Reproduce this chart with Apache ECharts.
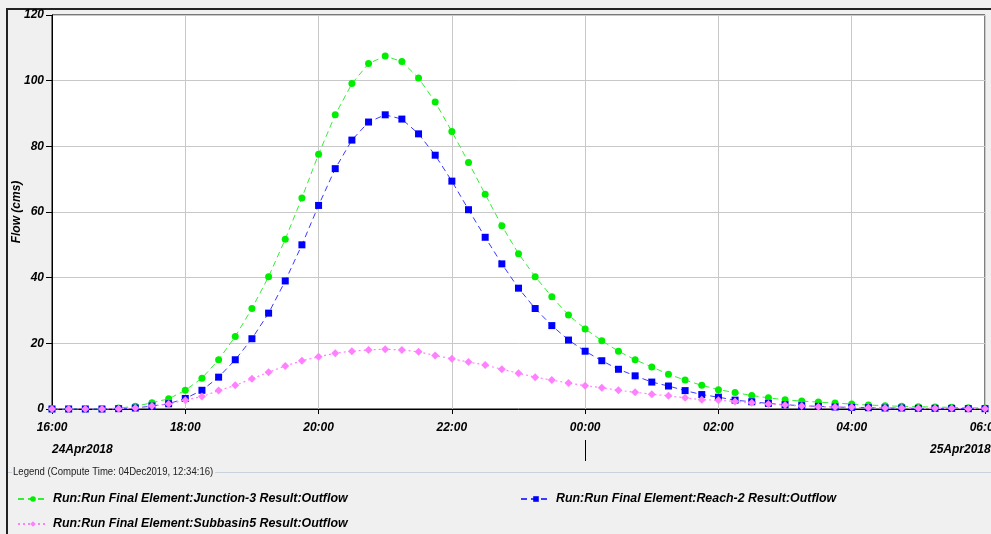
<!DOCTYPE html>
<html lang="en" style="height: 100%">
<head>
  <meta charset="utf-8">
</head>
<body style="height: 100%; margin: 0; background: #f0f0f0">
  <div id="container" style="width: 991px; height: 534px"></div>

  <script type="text/javascript" src="https://registry.npmmirror.com/echarts/5.5.0/files/dist/echarts.min.js"></script>

  <script type="text/javascript">
    // 15-minute steps, 24Apr2018 16:00 -> 25Apr2018 06:00 (hours, 24+ = next day)
    var startHour = 16;
    var stepHour = 0.25;

    var junction3 = [0, 0, 0, 0, 0.3, 0.8, 1.9, 3.1, 5.7, 9.4, 15.0, 22.1, 30.6, 40.3, 51.7, 64.3,
      77.6, 89.6, 99.1, 105.2, 107.5, 105.8, 100.8, 93.5, 84.5, 75.1, 65.4, 55.8, 47.3, 40.3, 34.2,
      28.6, 24.4, 20.8, 17.6, 15.0, 12.8, 10.6, 8.8, 7.2, 5.9, 5.0, 4.1, 3.4, 2.8, 2.4, 2.1, 1.8,
      1.5, 1.2, 1.0, 0.8, 0.7, 0.6, 0.5, 0.4, 0.3];
    var reach2 = [0, 0, 0, 0, 0.1, 0.3, 0.9, 1.6, 3.2, 5.7, 9.7, 15.0, 21.4, 29.2, 39.0, 50.0,
      62.0, 73.2, 81.9, 87.4, 89.6, 88.3, 83.8, 77.3, 69.4, 60.7, 52.3, 44.2, 36.8, 30.6, 25.4,
      21.0, 17.6, 14.7, 12.1, 10.1, 8.2, 7.0, 5.6, 4.4, 3.6, 2.7, 2.2, 1.7, 1.3, 1.0, 0.8, 0.6,
      0.5, 0.4, 0.3, 0.3, 0.2, 0.2, 0.2, 0.1, 0.1];
    var subbasin5 = [0, 0, 0, 0, 0.1, 0.3, 0.9, 1.5, 2.7, 3.8, 5.6, 7.2, 9.2, 11.2, 13.1, 14.7,
      15.9, 17.0, 17.6, 18.0, 18.2, 18.0, 17.4, 16.3, 15.3, 14.3, 13.4, 12.1, 10.9, 9.7, 8.8,
      7.9, 7.1, 6.5, 5.7, 5.1, 4.5, 4.0, 3.4, 2.8, 2.7, 2.3, 1.9, 1.5, 1.2, 0.9, 0.7, 0.6,
      0.5, 0.4, 0.3, 0.3, 0.2, 0.2, 0.2, 0.1, 0.1];

    var names = [
      'Run:Run Final Element:Junction-3 Result:Outflow',
      'Run:Run Final Element:Reach-2 Result:Outflow',
      'Run:Run Final Element:Subbasin5 Result:Outflow'
    ];

    function pairs(vals) {
      return vals.map(function (v, i) { return [startHour + i * stepHour, v]; });
    }

    var font = 'Liberation Sans, Arial, sans-serif';
    var bi = { fontFamily: font, fontSize: 12, fontWeight: 'bold', fontStyle: 'italic', color: '#000' };

    var dom = document.getElementById('container');
    var myChart = echarts.init(dom, null, { renderer: 'canvas' });

    function legendBox(name, left, top) {
      return {
        data: [name], left: left, top: top, orient: 'horizontal',
        itemWidth: 30, itemHeight: 7, selectedMode: false,
        textStyle: Object.assign({}, bi, { fontSize: 12.4 })
      };
    }

    var option = {
      backgroundColor: '#f0f0f0',
      animation: false,
      grid: {
        left: 52, top: 15, right: 6, bottom: 125,
        outerBoundsMode: 'none', containLabel: false,
        show: true, backgroundColor: '#fff', borderColor: '#000', borderWidth: 1
      },
      xAxis: {
        type: 'value', min: 16, max: 30, interval: 2,
        axisLine: { lineStyle: { color: '#000', width: 1 } },
        axisTick: { length: 5, lineStyle: { color: '#000' } },
        splitLine: { lineStyle: { color: '#c8c8c8' } },
        axisLabel: Object.assign({
          margin: 13, showMaxLabel: true, showMinLabel: true, hideOverlap: false,
          formatter: function (v) {
            var h = v % 24;
            return (h < 10 ? '0' : '') + h + ':00';
          }
        }, bi)
      },
      yAxis: {
        type: 'value', min: 0, max: 120, interval: 20,
        name: 'Flow (cms)', nameLocation: 'middle', nameGap: 29, nameMoveOverlap: false,
        nameTextStyle: bi,
        axisLine: { show: true, lineStyle: { color: '#000' } },
        axisTick: { show: true, length: 6, lineStyle: { color: '#000' } },
        splitLine: { lineStyle: { color: '#c8c8c8' } },
        axisLabel: Object.assign({ margin: 8 }, bi)
      },
      legend: [
        legendBox(names[0], 12, 488),
        legendBox(names[1], 515, 488),
        legendBox(names[2], 12, 513)
      ],
      graphic: [
        { type: 'rect', shape: { x: 7, y: 9, width: 1000, height: 540 },
          style: { fill: null, stroke: '#222', lineWidth: 2 }, silent: true },
        { type: 'text', left: 52, top: 444, style: { text: '24Apr2018', font: 'italic bold 12px ' + font, fill: '#000' } },
        { type: 'text', left: 930, top: 444, style: { text: '25Apr2018', font: 'italic bold 12px ' + font, fill: '#000' } },
        { type: 'line', shape: { x1: 585.5, y1: 440, x2: 585.5, y2: 461 }, style: { stroke: '#000', lineWidth: 1 } },
        { type: 'text', x: 13, y: 466, scaleX: 0.87, style: { text: 'Legend (Compute Time: 04Dec2019, 12:34:16)', font: '11px ' + font, fill: '#222' } },
        { type: 'line', shape: { x1: 8, y1: 472.5, x2: 12, y2: 472.5 }, style: { stroke: '#c8d2dc', lineWidth: 1 } },
        { type: 'line', shape: { x1: 215, y1: 472.5, x2: 991, y2: 472.5 }, style: { stroke: '#c8d2dc', lineWidth: 1 } }
      ],
      series: [
        {
          name: names[0], type: 'line', data: pairs(junction3),
          symbol: 'circle', symbolSize: 7,
          itemStyle: { color: '#00ee00' },
          lineStyle: { color: '#33ee33', width: 1, type: [6, 4] }
        },
        {
          name: names[1], type: 'line', data: pairs(reach2),
          symbol: 'rect', symbolSize: 7,
          itemStyle: { color: '#0000ff' },
          lineStyle: { color: '#3b3bff', width: 1, type: [6, 4] }
        },
        {
          name: names[2], type: 'line', data: pairs(subbasin5),
          symbol: 'diamond', symbolSize: 8,
          itemStyle: { color: '#ff80ff' },
          lineStyle: { color: '#ff80ff', width: 1.2, type: [2, 3] }
        }
      ]
    };

    myChart.setOption(option);
    window.addEventListener('resize', myChart.resize);
  </script>
</body>
</html>
